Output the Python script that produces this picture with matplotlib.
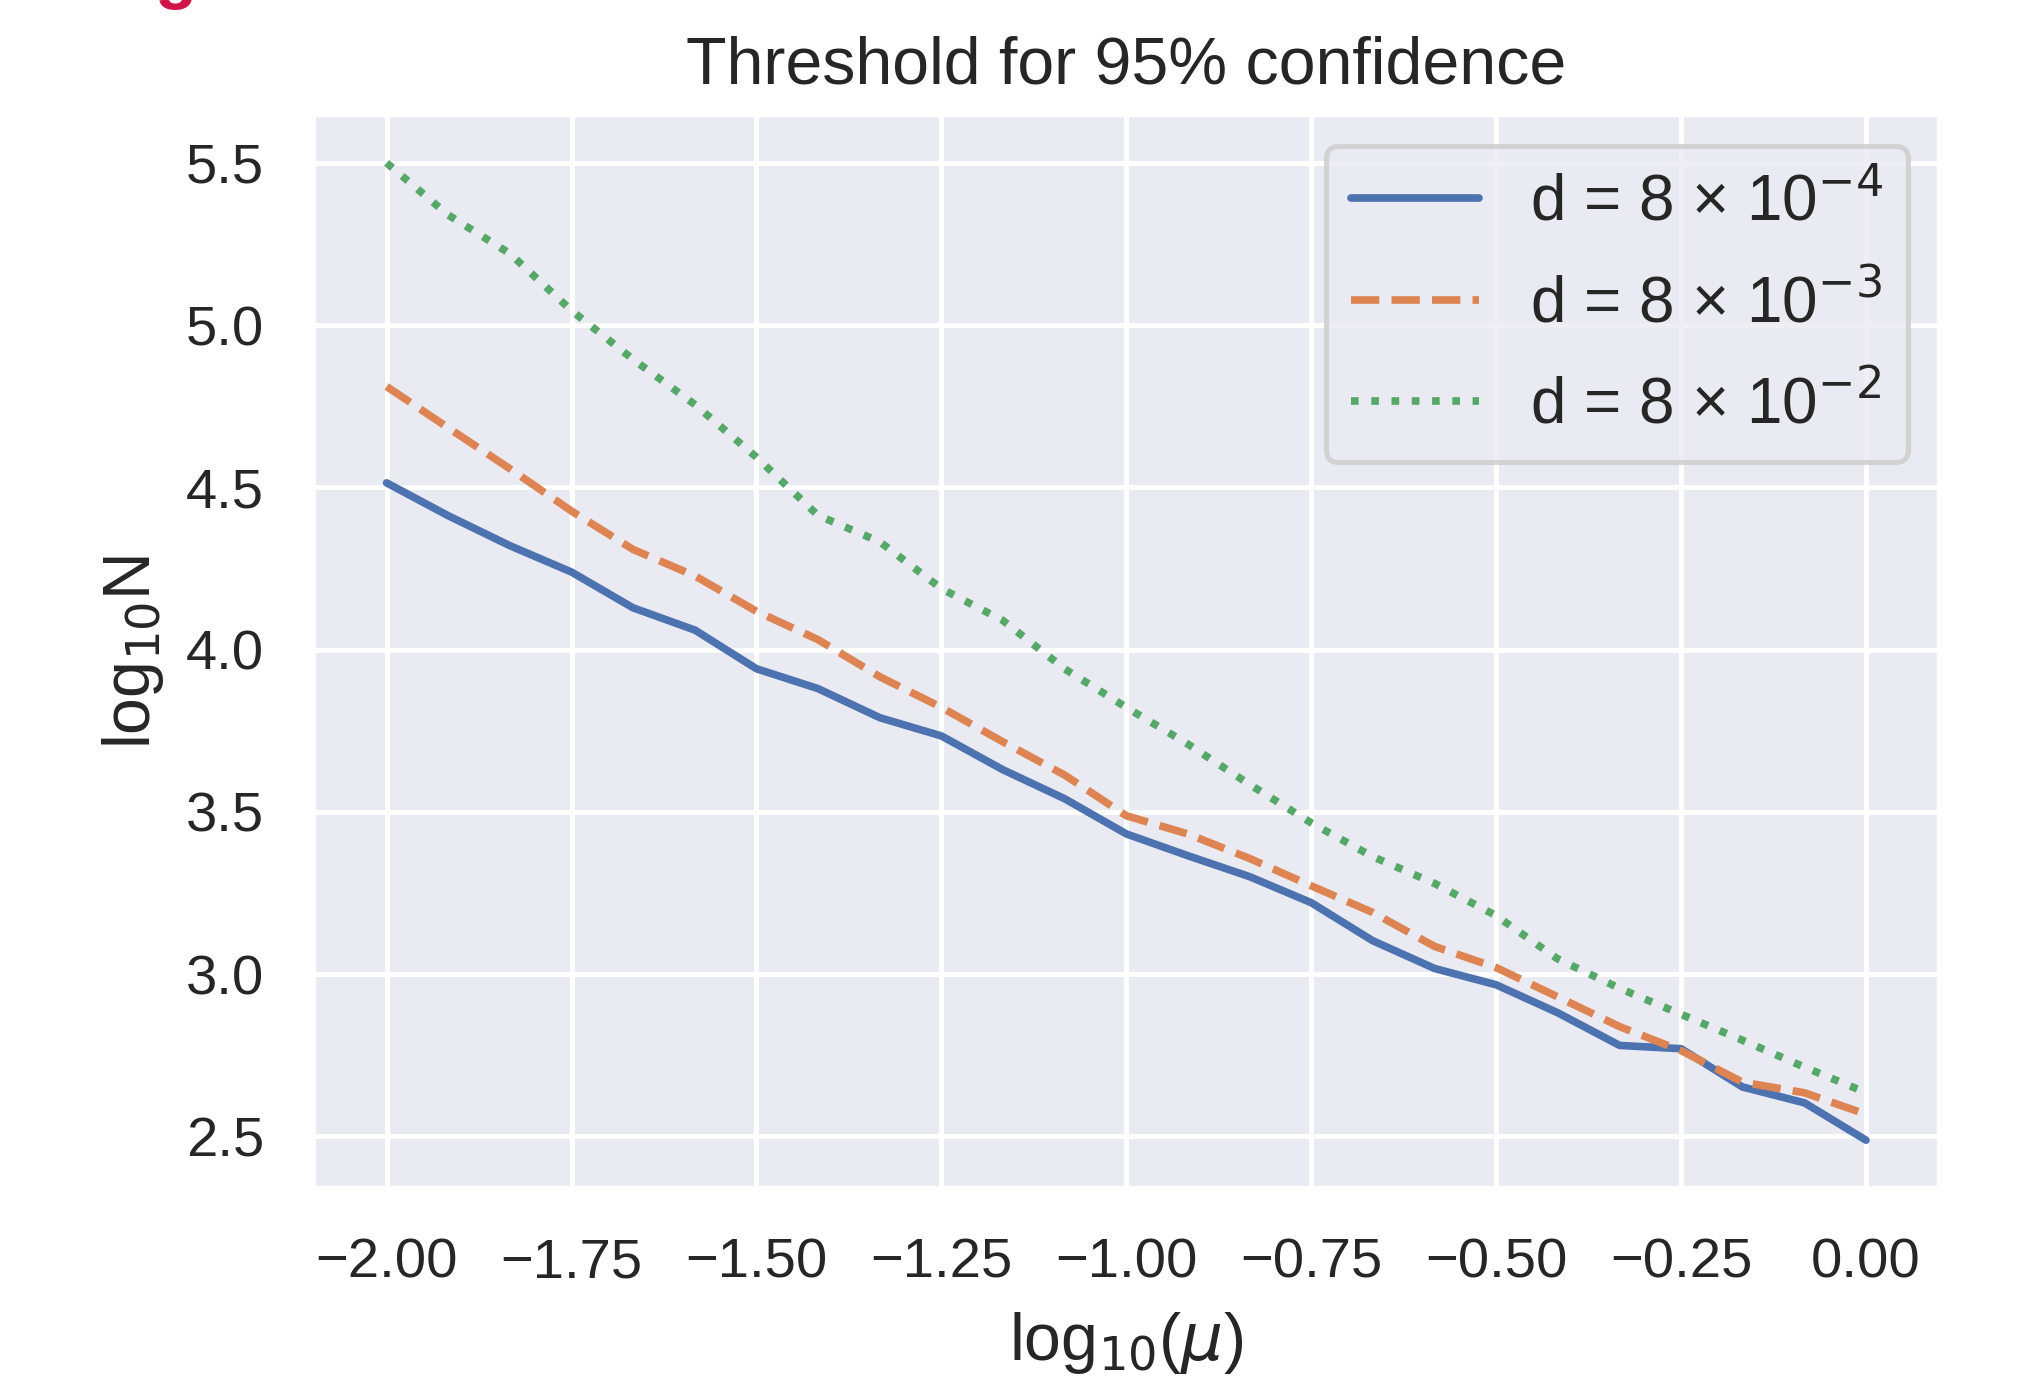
import matplotlib

matplotlib.use("Agg")
import matplotlib.pyplot as plt
import seaborn as sns

# log10(mu) grid and the threshold log10(N) for each diffusion value d
log_mu = [-2.0, -1.917, -1.833, -1.75, -1.667, -1.583, -1.5, -1.417, -1.333,
          -1.25, -1.167, -1.083, -1.0, -0.917, -0.833, -0.75, -0.667, -0.583,
          -0.5, -0.417, -0.333, -0.25, -0.167, -0.083, 0.0]
log_n_d4 = [4.514, 4.413, 4.32, 4.239, 4.129, 4.06, 3.941, 3.88, 3.79,
            3.734, 3.63, 3.54, 3.432, 3.365, 3.30, 3.22, 3.103, 3.017,
            2.967, 2.881, 2.78, 2.77, 2.652, 2.603, 2.488]
log_n_d3 = [4.811, 4.684, 4.557, 4.427, 4.309, 4.227, 4.118, 4.031, 3.916,
            3.822, 3.716, 3.613, 3.488, 3.432, 3.356, 3.272, 3.19, 3.085,
            3.02, 2.93, 2.838, 2.764, 2.667, 2.634, 2.568]
log_n_d2 = [5.50, 5.34, 5.22, 5.045, 4.895, 4.755, 4.593, 4.414, 4.332,
            4.188, 4.09, 3.94, 3.822, 3.709, 3.584, 3.466, 3.362, 3.279,
            3.18, 3.047, 2.956, 2.876, 2.796, 2.713, 2.635]
labels = ["d = 8 × 10$^{-4}$", "d = 8 × 10$^{-3}$", "d = 8 × 10$^{-2}$"]

sns.set_theme(style="darkgrid", context="notebook")
plt.rcParams["font.family"] = ["Liberation Sans", "DejaVu Sans"]

DPI = 367
fig = plt.figure(figsize=(2017 / DPI, 1386 / DPI), dpi=DPI)
ax = fig.add_axes([0.155, 0.1421, 0.9618 - 0.155, 0.9177 - 0.1421])

pal = sns.color_palette("deep")
ax.plot(log_mu, log_n_d4, color=pal[0], linestyle="-", label=labels[0])
ax.plot(log_mu, log_n_d3, color=pal[1], linestyle="--", label=labels[1])
ax.plot(log_mu, log_n_d2, color=pal[2], linestyle=":", label=labels[2])

ax.set_title("Threshold for 95% confidence", fontsize=13)
ax.set_xlabel("log$_{10}$($\\mu$)", fontsize=13)
ax.set_ylabel("log$_{10}$N", fontsize=13)
ax.legend(loc="upper right", fontsize=12.5, labelspacing=0.62)

# cropped caption remnant at the top edge of the source image
fig.text(154 / 2017, 1 + 3.5 / 1386, "g", color="#cf1447", fontsize=13.5,
         fontweight="bold", va="baseline", ha="left")

fig.savefig("out.png", dpi=DPI)
